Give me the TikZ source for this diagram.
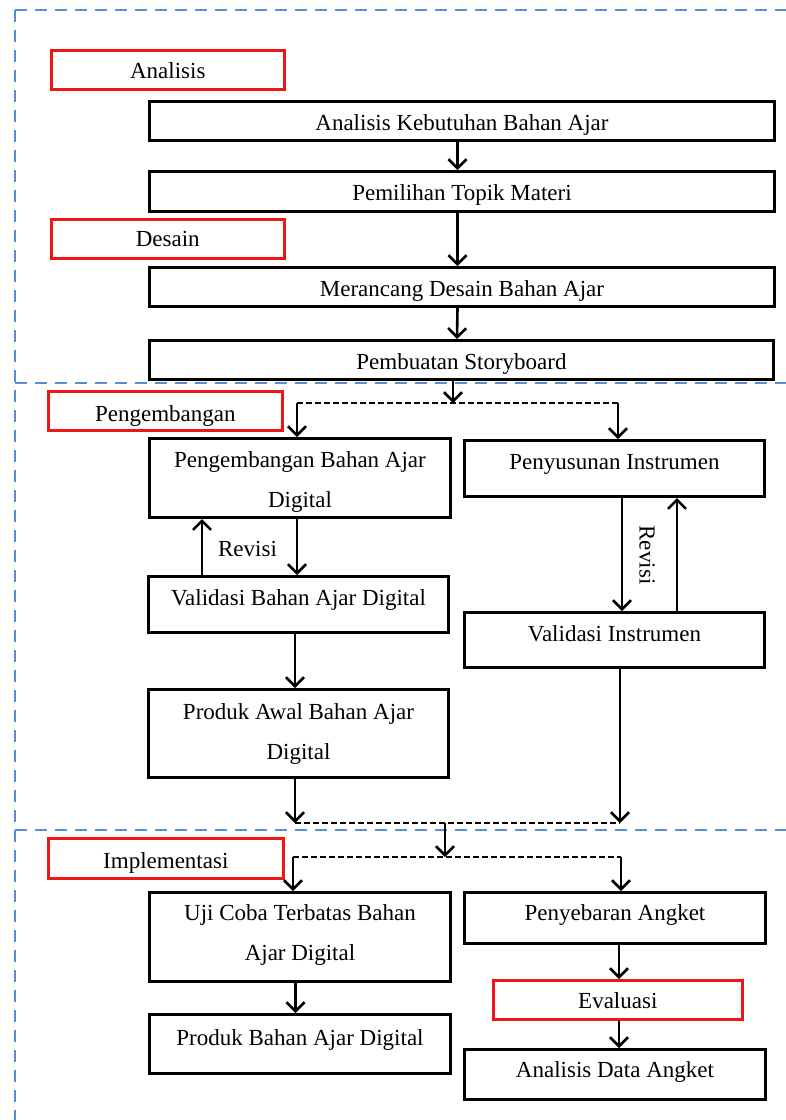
\documentclass[tikz,border=0pt]{standalone}
\usepackage{fontspec}
\setmainfont{Liberation Serif}
\usetikzlibrary{arrows.meta}
\definecolor{phase}{RGB}{88,140,212}
\definecolor{stage}{RGB}{240,20,20}
\begin{document}
\begin{tikzpicture}[x=1pt,y=-1pt,
  box/.style={draw=black, line width=3pt, inner sep=0pt, anchor=north west},
  redbox/.style={draw=stage, line width=2.6pt, inner sep=0pt, anchor=north west},
  lbl/.style={font=\fontsize{23}{40}\selectfont, align=center, inner sep=0pt, anchor=north},
  arr/.style={line width=2.6pt, -{Straight Barb[length=9pt,width=18pt,line width=2.6pt]}},
  dsh/.style={line width=2.6pt, dash pattern=on 6pt off 3pt},
  phaseline/.style={draw=phase, line width=2.6pt, dash pattern=on 12pt off 8pt}]
\useasboundingbox (0,0) rectangle (786,1120);

% phase separators
\draw[phaseline] (15,10) -- (786,10);
\draw[phaseline] (15,10) -- (15,1120);
\draw[phaseline] (15,383) -- (786,383);
\draw[phaseline] (15,830) -- (786,830);

% boxes
\node[redbox, minimum width=233pt, minimum height=39pt] (rAn) at (50,49) {};
\node[lbl] (rAnT) at ([yshift=-13.5pt]rAn.north) {Analisis};
\node[box, minimum width=625pt, minimum height=39pt] (akb) at (148,100) {};
\node[lbl] (akbT) at ([yshift=-14.5pt]akb.north) {Analisis Kebutuhan Bahan Ajar};
\node[box, minimum width=625pt, minimum height=40pt] (pem) at (148,170) {};
\node[lbl] (pemT) at ([yshift=-14.5pt]pem.north) {Pemilihan Topik Materi};
\node[redbox, minimum width=233pt, minimum height=39pt] (rDe) at (50,218) {};
\node[lbl] (rDeT) at ([yshift=-13.5pt]rDe.north) {Desain};
\node[box, minimum width=625pt, minimum height=39pt] (mer) at (148,266) {};
\node[lbl] (merT) at ([yshift=-14.5pt]mer.north) {Merancang Desain Bahan Ajar};
\node[box, minimum width=624pt, minimum height=39pt] (pbs) at (148,339) {};
\node[lbl] (pbsT) at ([yshift=-14pt]pbs.north) {Pembuatan Storyboard};

\node[redbox, minimum width=234pt, minimum height=39pt] (rPe) at (47,390) {};
\node[lbl] (rPeT) at ([yshift=-15pt]rPe.north) {Pengembangan};
\node[box, minimum width=301pt, minimum height=79pt] (peng) at (148,437) {};
\node[lbl] (pengT) at ([yshift=-14.5pt]peng.north) {Pengembangan Bahan Ajar\\Digital};
\node[box, minimum width=300pt, minimum height=56pt] (pyi) at (463,439) {};
\node[lbl] (pyiT) at ([yshift=-15pt]pyi.north) {Penyusunan Instrumen};
\node[box, minimum width=300pt, minimum height=56pt] (vba) at (147,575) {};
\node[lbl] (vbaT) at ([yshift=-14.5pt]vba.north) {Validasi Bahan Ajar Digital};
\node[box, minimum width=300pt, minimum height=55pt] (vin) at (463,611) {};
\node[lbl] (vinT) at ([yshift=-14.5pt]vin.north) {Validasi Instrumen};
\node[box, minimum width=300pt, minimum height=88pt] (paw) at (147,688) {};
\node[lbl] (pawT) at ([yshift=-15pt]paw.north) {Produk Awal Bahan Ajar\\Digital};

\node[redbox, minimum width=235pt, minimum height=40pt] (rIm) at (47,837) {};
\node[lbl] (rImT) at ([yshift=-15pt]rIm.north) {Implementasi};
\node[box, minimum width=301pt, minimum height=89pt] (uji) at (148,891) {};
\node[lbl] (ujiT) at ([yshift=-13.5pt]uji.north) {Uji Coba Terbatas Bahan\\Ajar Digital};
\node[box, minimum width=301pt, minimum height=51pt] (pa) at (463,891) {};
\node[lbl] (paT) at ([yshift=-13.5pt]pa.north) {Penyebaran Angket};
\node[redbox, minimum width=249pt, minimum height=39pt] (rEv) at (492,979) {};
\node[lbl] (rEvT) at ([yshift=-13.5pt]rEv.north) {Evaluasi};
\node[box, minimum width=301pt, minimum height=59pt] (pba) at (148,1013) {};
\node[lbl] (pbaT) at ([yshift=-16pt]pba.north) {Produk Bahan Ajar Digital};
\node[box, minimum width=301pt, minimum height=50pt] (ada) at (463,1048) {};
\node[lbl] (adaT) at ([yshift=-13.5pt]ada.north) {Analisis Data Angket};

% revision labels
\node[font=\fontsize{23}{40}\selectfont, inner sep=0pt, anchor=base] (rev1) at (247.5,556) {Revisi};
\node[font=\fontsize{23}{40}\selectfont, inner sep=0pt, rotate=-90] (rev2) at (647,555) {Revisi};

% helper coordinates
\coordinate (j1) at (453,403);
\coordinate (s1L) at (297,403);
\coordinate (s1R) at (618,403);
\coordinate (xrevL) at (202,0);
\coordinate (xr1) at (622,0);
\coordinate (xr2) at (677,0);
\coordinate (j2L) at (295,823);
\coordinate (j2R) at (620,823);
\coordinate (j3) at (445,823);
\coordinate (j3b) at (445,857);
\coordinate (s2L) at (293,857);
\coordinate (s2R) at (621,857);
\coordinate (xe) at (619,0);

% connectors: analysis and design
\draw[arr] ([xshift=-4.5pt]akb.south) -- ([xshift=-4.5pt]pem.north);
\draw[arr] ([xshift=-4.5pt]pem.south) -- ([xshift=-4.5pt]mer.north);
\draw[arr] ([xshift=-4.5pt]mer.south) -- ([xshift=-4.5pt]pbs.north);
\draw[arr] (pbs.south -| j1) -- (j1);

% development
\draw[dsh] (s1L) -- (s1R);
\draw[arr] (s1L) -- (s1L |- peng.north);
\draw[arr] (s1R) -- (s1R |- pyi.north);
\draw[arr] (peng.south -| s1L) -- (vba.north -| s1L);
\draw[arr] (vba.north -| xrevL) -- (peng.south -| xrevL);
\draw[arr] (vba.south -| j2L) -- (paw.north -| j2L);
\draw[arr] (pyi.south -| xr1) -- (vin.north -| xr1);
\draw[arr] (vin.north -| xr2) -- (pyi.south -| xr2);
\draw[arr] (paw.south -| j2L) -- (j2L);
\draw[arr] (vin.south -| j2R) -- (j2R);
\draw[dsh] (j2L) -- (j2R);

% implementation
\draw[arr] (j3) -- (j3b);
\draw[dsh] (s2L) -- (s2R);
\draw[arr] (s2L) -- (s2L |- uji.north);
\draw[arr] (s2R) -- (s2R |- pa.north);
\draw[arr] ([xshift=-4.5pt]uji.south) -- ([xshift=-4.5pt]pba.north);
\draw[arr] (pa.south -| xe) -- (rEv.north -| xe);
\draw[arr] (rEv.south -| xe) -- (ada.north -| xe);
\end{tikzpicture}
\end{document}
